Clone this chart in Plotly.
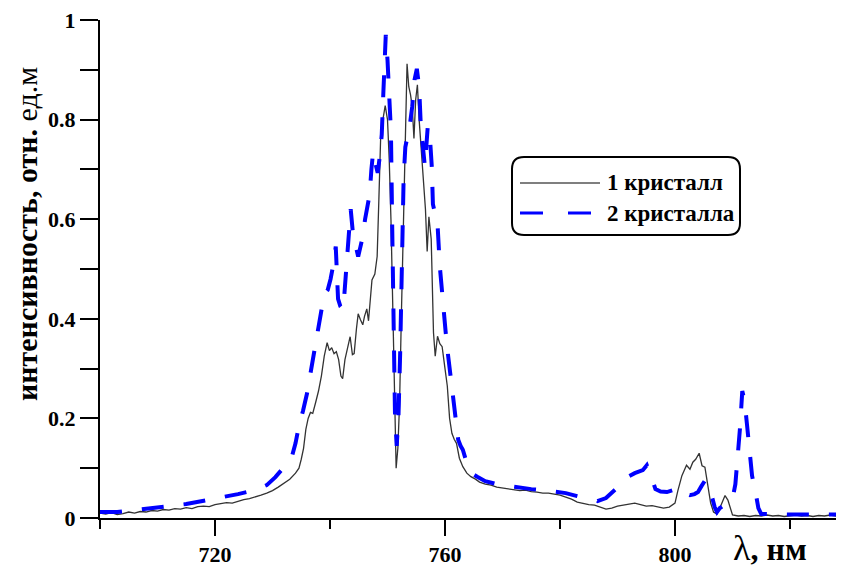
import plotly.graph_objects as go

# ---- data: 1 кристалл (black, solid) ----
x1 = [700, 701, 702, 703, 704, 705, 706, 707, 708, 709, 710, 711, 712, 713, 714, 715, 716, 717, 718, 719,
      720, 721, 722, 723, 724, 725, 726, 727, 728, 729, 730, 731, 732, 733, 734, 734.6, 735.0, 735.4, 735.8,
      736.2, 736.6, 737.0, 737.5, 738.0, 738.5, 739.0, 739.5, 739.9, 740.3, 740.7, 741.1, 741.5, 741.9,
      742.2, 742.6, 743.0, 743.5, 743.9, 744.2, 744.6, 744.9, 745.3, 745.7, 746.0, 746.4, 746.7, 747.0,
      747.3, 747.8, 748.2, 748.5, 748.8, 749.2, 749.6, 750.0, 750.3, 750.6, 750.9, 751.2, 751.5, 751.8,
      752.1, 752.4, 752.7, 753.0, 753.2, 753.4, 753.7, 754.0, 754.3, 754.6, 754.9, 755.2, 755.5, 755.8,
      756.2, 756.6, 756.9, 757.2, 757.6, 758.0, 758.3, 758.7, 759.1, 759.5, 760.0, 760.4, 760.8, 761.2,
      761.6, 762.0, 762.5, 763.1, 763.8, 764.5, 765.3, 766, 767, 768, 769, 770, 771, 772, 773, 774, 775,
      776, 777, 778, 779, 780, 781, 782, 783, 784, 785, 786, 787, 788, 789, 790, 791, 792, 793, 794, 795,
      796, 797, 798, 799, 800, 800.5, 801.2, 802.0, 802.6, 803.1, 803.6, 804.2, 804.7, 805.2, 805.7, 806.2,
      806.7, 807.3, 807.8, 808.2, 808.7, 809.2, 809.6, 810.0, 811, 812, 813, 814, 815, 816, 817, 818, 819,
      820, 821, 822, 823, 824, 825, 826, 827, 828, 829, 830]
y1 = [0.010, 0.008, 0.011, 0.007, 0.009, 0.012, 0.010, 0.013, 0.012, 0.015, 0.014, 0.017, 0.016, 0.019,
      0.018, 0.021, 0.019, 0.023, 0.024, 0.023, 0.027, 0.029, 0.031, 0.030, 0.034, 0.037, 0.039, 0.042,
      0.046, 0.050, 0.055, 0.062, 0.070, 0.078, 0.090, 0.100, 0.118, 0.140, 0.178, 0.200, 0.212, 0.210,
      0.232, 0.255, 0.285, 0.325, 0.352, 0.336, 0.342, 0.330, 0.334, 0.318, 0.285, 0.280, 0.318, 0.340,
      0.364, 0.328, 0.330, 0.380, 0.410, 0.398, 0.388, 0.405, 0.420, 0.396, 0.440, 0.478, 0.490, 0.525,
      0.640, 0.760, 0.800, 0.828, 0.800, 0.720, 0.600, 0.450, 0.260, 0.100, 0.140, 0.230, 0.400, 0.570,
      0.720, 0.800, 0.912, 0.866, 0.850, 0.826, 0.762, 0.840, 0.870, 0.800, 0.752, 0.695, 0.620, 0.535,
      0.605, 0.560, 0.372, 0.325, 0.365, 0.350, 0.344, 0.300, 0.265, 0.200, 0.170, 0.158, 0.150, 0.120,
      0.103, 0.090, 0.083, 0.078, 0.072, 0.068, 0.066, 0.062, 0.060, 0.058, 0.057, 0.055, 0.056, 0.053,
      0.052, 0.050, 0.050, 0.048, 0.046, 0.042, 0.038, 0.032, 0.029, 0.027, 0.026, 0.022, 0.018, 0.020,
      0.024, 0.026, 0.028, 0.030, 0.027, 0.024, 0.025, 0.022, 0.020, 0.022, 0.030, 0.055, 0.085, 0.106,
      0.098, 0.112, 0.118, 0.130, 0.105, 0.102, 0.062, 0.030, 0.012, 0.008, 0.020, 0.032, 0.045, 0.036,
      0.018, 0.006, 0.004, 0.005, 0.003, 0.005, 0.004, 0.006, 0.004, 0.005, 0.003, 0.004, 0.006, 0.004,
      0.005, 0.003, 0.005, 0.004, 0.006, 0.004, 0.005, 0.004]

# ---- data: 2 кристалла (blue, dashed) ----
x2 = [700, 703, 706, 709, 712, 715, 718, 721, 724, 727, 729, 730.5, 731.5, 732.5, 733.3, 734.0, 734.6,
      735.3, 736.0, 736.6, 737.2, 737.8, 738.4, 739.0, 739.6, 740.1, 740.6, 741.0, 741.4, 741.8, 742.3,
      742.7, 743.1, 743.6, 744.0, 744.5, 744.9, 745.3, 745.7, 746.1, 746.5, 746.9, 747.2, 747.5, 747.9,
      748.3, 748.7, 749.0, 749.3, 749.7, 750.0, 750.3, 750.6, 750.8, 751.0, 751.3, 751.6, 751.9, 752.2,
      752.5, 752.8, 753.1, 753.5, 753.9, 754.3, 754.7, 755.1, 755.5, 755.8, 756.2, 756.5, 757.0, 757.4,
      757.7, 757.9, 758.3, 758.7, 759.1, 759.6, 760.1, 760.5, 761.0, 761.4, 761.9, 762.3, 762.7, 763.1,
      763.8, 764.6, 765.6, 767, 769, 771, 773, 775, 777, 779, 781, 783, 785, 786.5, 788, 789.5, 791, 792,
      793, 794.4, 795.1, 795.8, 796.6, 797.5, 798.6, 799.7, 800.9, 801.7, 802.6, 803.4, 804.0, 804.6,
      805.2, 805.8, 806.4, 806.9, 807.3, 807.8, 808.5, 809.2, 810.0, 810.5, 810.9, 811.3, 811.7, 812.1,
      812.5, 812.9, 813.4, 814.0, 814.5, 815.0, 817, 820, 823, 826, 830]
y2 = [0.012, 0.012, 0.016, 0.019, 0.024, 0.028, 0.034, 0.040, 0.048, 0.056, 0.066, 0.082, 0.095, 0.108,
      0.120, 0.150, 0.185, 0.215, 0.250, 0.290, 0.330, 0.370, 0.410, 0.450, 0.458, 0.480, 0.510, 0.545,
      0.440, 0.425, 0.418, 0.480, 0.560, 0.620, 0.570, 0.540, 0.525, 0.545, 0.565, 0.600, 0.630, 0.650,
      0.700, 0.735, 0.712, 0.693, 0.730, 0.770, 0.860, 0.970, 0.920, 0.860, 0.775, 0.600, 0.380, 0.210,
      0.145, 0.200, 0.330, 0.520, 0.680, 0.745, 0.765, 0.790, 0.826, 0.880, 0.902, 0.866, 0.786, 0.740,
      0.706, 0.786, 0.760, 0.706, 0.630, 0.610, 0.590, 0.505, 0.430, 0.375, 0.330, 0.280, 0.237, 0.190,
      0.157, 0.145, 0.137, 0.110, 0.090, 0.083, 0.074, 0.068, 0.064, 0.061, 0.058, 0.056, 0.053, 0.050,
      0.044, 0.038, 0.034, 0.040, 0.055, 0.072, 0.084, 0.090, 0.096, 0.106, 0.085, 0.058, 0.053, 0.052,
      0.056, 0.060, 0.050, 0.046, 0.048, 0.052, 0.064, 0.075, 0.062, 0.044, 0.022, 0.012, 0.020, 0.026,
      0.030, 0.038, 0.068, 0.120, 0.180, 0.255, 0.235, 0.190, 0.140, 0.085, 0.052, 0.020, 0.008, 0.007,
      0.007, 0.007, 0.007, 0.007]

x_tickvals = [720, 760, 800]
x_ticktext = ["720", "760", "800"]
y_tickvals = [0, 0.2, 0.4, 0.6, 0.8, 1]
y_ticktext = ["0", "0.2", "0.4", "0.6", "0.8", "1"]
series_names = ["1 кристалл", "2 кристалла"]

SERIF = "Liberation Serif"
OFF = 8                      # page body margin of the browser
W, H = 844 - OFF, 570 - OFF
L, R, T, B = 100 - OFF, 0, 20 - OFF, 52
PW, PH = W - L - R, H - T - B


def px(xp):
    return (xp - OFF - L) / PW


def py(yp):
    return (H - B - (yp - OFF)) / PH


fig = go.Figure()
fig.add_trace(go.Scatter(x=x1, y=y1, mode="lines", name=series_names[0],
                         line=dict(color="#333333", width=1.3), showlegend=False))
fig.add_trace(go.Scatter(x=x2, y=y2, mode="lines", name=series_names[1],
                         line=dict(color="#0000ff", width=4, dash="22px,20px"), showlegend=False))

fig.update_layout(
    width=W, height=H,
    margin=dict(l=L, r=R, t=T, b=B, pad=0),
    plot_bgcolor="white", paper_bgcolor="white",
    font=dict(family=SERIF, color="black"),
)
fig.update_xaxes(
    range=[700, 700 + PW / 5.75], showgrid=False, zeroline=False,
    showline=True, linecolor="black", linewidth=2,
    tickmode="array", tickvals=x_tickvals, ticktext=x_ticktext,
    ticks="outside", ticklen=16, tickwidth=2, tickcolor="black",
    ticklabeloverflow="allow",
    tickfont=dict(family=SERIF, size=22, weight="bold", color="black"),
    minor=dict(tickmode="array", tickvals=[700, 740, 780, 820], ticks="outside",
               ticklen=9, tickwidth=2, tickcolor="black", showgrid=False),
)
fig.update_yaxes(
    range=[0, 1], showgrid=False, zeroline=False,
    showline=True, linecolor="black", linewidth=2,
    tickmode="array", tickvals=y_tickvals, ticktext=y_ticktext,
    ticks="outside", ticklen=18, tickwidth=2, tickcolor="black",
    ticklabeloverflow="allow",
    tickfont=dict(family=SERIF, size=22, weight="bold", color="black"),
    minor=dict(tickmode="array", tickvals=[0.1, 0.3, 0.5, 0.7, 0.9], ticks="outside",
               ticklen=18, tickwidth=2, tickcolor="black", showgrid=False),
)

# y axis title
fig.add_annotation(xref="paper", yref="paper", x=px(26), y=py(234), textangle=-90,
                   text="<b>интенсивность, отн. </b>ед.м", showarrow=False,
                   font=dict(family=SERIF, size=30, color="black"),
                   xanchor="center", yanchor="middle")
# x axis title
fig.add_annotation(xref="paper", yref="paper", x=px(731), y=py(570), xanchor="left", yanchor="bottom",
                   text="<span style='font-size:36px'>λ</span><b>, нм</b>", showarrow=False,
                   font=dict(family=SERIF, size=32, color="black"))

# legend box (rounded)
x0, x1b, y0, y1b = 512, 740, 157, 235
r = 12
path = (f"M {px(x0 + r)},{py(y0)} L {px(x1b - r)},{py(y0)} Q {px(x1b)},{py(y0)} {px(x1b)},{py(y0 + r)} "
        f"L {px(x1b)},{py(y1b - r)} Q {px(x1b)},{py(y1b)} {px(x1b - r)},{py(y1b)} "
        f"L {px(x0 + r)},{py(y1b)} Q {px(x0)},{py(y1b)} {px(x0)},{py(y1b - r)} "
        f"L {px(x0)},{py(y0 + r)} Q {px(x0)},{py(y0)} {px(x0 + r)},{py(y0)} Z")
fig.add_shape(type="path", path=path, xref="paper", yref="paper",
              line=dict(color="black", width=2), fillcolor="white", layer="above")
fig.add_shape(type="line", xref="paper", yref="paper", x0=px(520), x1=px(600), y0=py(183), y1=py(183),
              line=dict(color="#555555", width=1.5))
fig.add_shape(type="line", xref="paper", yref="paper", x0=px(520), x1=px(592), y0=py(213), y1=py(213),
              line=dict(color="#0000ff", width=3, dash="23px,25px"))
fig.add_annotation(xref="paper", yref="paper", x=px(605), y=py(183), xanchor="left", yanchor="middle",
                   text="<b>" + series_names[0] + "</b>", showarrow=False,
                   font=dict(family=SERIF, size=23, color="black"))
fig.add_annotation(xref="paper", yref="paper", x=px(605), y=py(213), xanchor="left", yanchor="middle",
                   text="<b>" + series_names[1] + "</b>", showarrow=False,
                   font=dict(family=SERIF, size=23, color="black"))

fig.write_html("out.html")
